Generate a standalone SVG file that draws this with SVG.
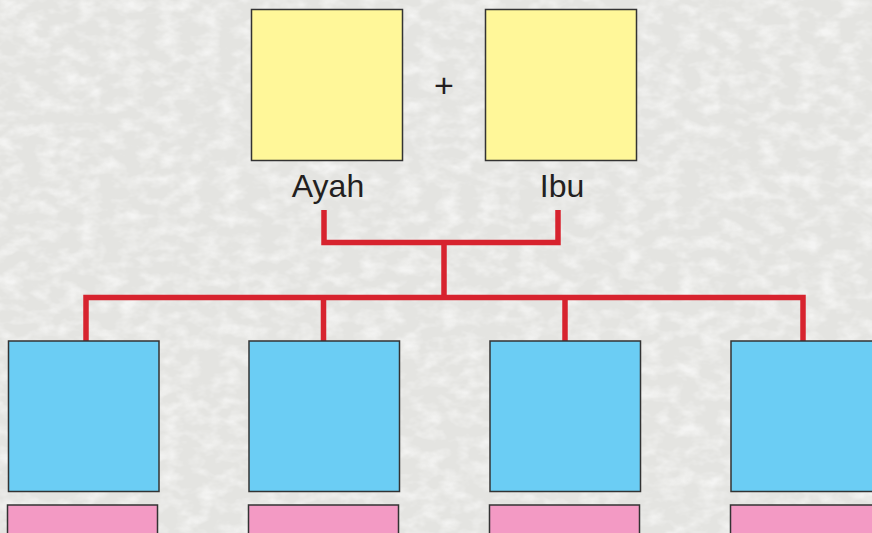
<svg xmlns="http://www.w3.org/2000/svg" width="872" height="533" viewBox="0 0 872 533">
<style>
.box{stroke:#333;stroke-width:1.5}
.parent{fill:#FFF799}
.child{fill:#6BCDF4}
.pink{fill:#F39AC4}
.lbl{font-family:"Liberation Sans","DejaVu Sans",sans-serif;font-size:32px;fill:#231F20;text-anchor:middle}
.conn{fill:none;stroke:#D7232E;stroke-width:5.5;stroke-linecap:butt;stroke-linejoin:miter}
</style>
<defs>
<filter id="tex" x="0" y="0" width="100%" height="100%">
<feTurbulence type="fractalNoise" baseFrequency="0.05 0.08" numOctaves="3" seed="4" result="n"/>
<feColorMatrix in="n" type="matrix" values="0 0 0 0 1  0 0 0 0 1  0 0 0 0 1  0 0 0 -2.2 1.3" result="w"/>
<feComposite in="w" in2="SourceGraphic" operator="in"/>
</filter>
</defs>
<rect id="background" x="0" y="0" width="872" height="533" fill="#E4E4E1"/>
<rect x="0" y="0" width="872" height="533" fill="#E4E4E1" filter="url(#tex)" opacity="0.6"/>
<g id="connectors">
<path class="conn" d="M324,210 V242.5 H558 V210"/>
<path class="conn" d="M444,242.5 V297.5"/>
<path class="conn" d="M86,341 V297.5 H803 V341"/>
<path class="conn" d="M323.5,297.5 V341"/>
<path class="conn" d="M565,297.5 V341"/>
</g>
<g id="ayah">
<rect class="box parent" x="251.5" y="9.5" width="151" height="151"/>
<text class="lbl" x="328" y="197">Ayah</text>
</g>
<g id="plus">
<text class="lbl" x="444" y="97" style="font-size:34px;font-weight:300">+</text>
</g>
<g id="ibu">
<rect class="box parent" x="485.5" y="9.5" width="151" height="151"/>
<text class="lbl" x="562" y="197">Ibu</text>
</g>
<g id="child1">
<rect class="box child" x="8.5" y="341" width="150.5" height="150.5"/>
<rect class="box pink" x="7.5" y="505" width="150" height="40"/>
</g>
<g id="child2">
<rect class="box child" x="249" y="341" width="150.5" height="150.5"/>
<rect class="box pink" x="248.5" y="505" width="150" height="40"/>
</g>
<g id="child3">
<rect class="box child" x="490" y="341" width="150.5" height="150.5"/>
<rect class="box pink" x="489.5" y="505" width="150" height="40"/>
</g>
<g id="child4">
<rect class="box child" x="731" y="341" width="150.5" height="150.5"/>
<rect class="box pink" x="730.5" y="505" width="150" height="40"/>
</g>
</svg>
